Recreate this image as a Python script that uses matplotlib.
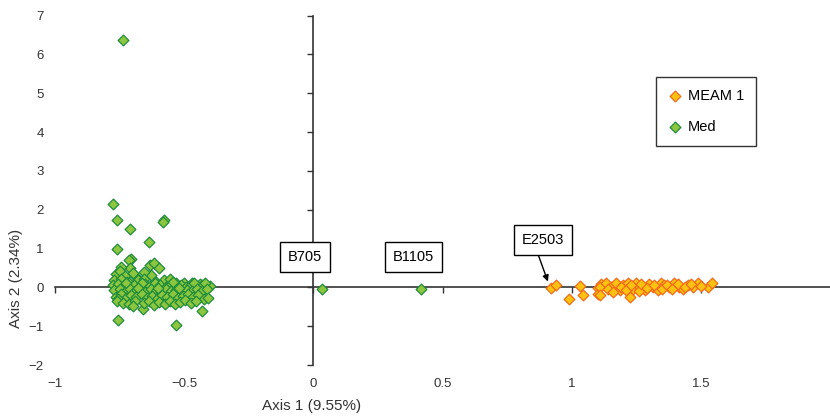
import matplotlib.pyplot as plt

plt.rcParams['font.family'] = ['Liberation Sans', 'DejaVu Sans']

# Med samples (axis 1, axis 2)
med_x = [-0.737, -0.774, -0.759, -0.710, -0.580, -0.583, -0.637, -0.762, -0.704, -0.714,
         -0.710, -0.744, -0.631, -0.618, -0.599, -0.757, -0.532, -0.432, 0.032, 0.418,
         -0.765, -0.748, -0.728, -0.690, -0.628, -0.655, -0.700,
         -0.770, -0.745, -0.720, -0.680, -0.655, -0.610, -0.580, -0.554, -0.530, -0.500, -0.470, -0.440,
         -0.775, -0.755, -0.735, -0.715, -0.695, -0.672, -0.652, -0.632, -0.612, -0.592, -0.572, -0.552,
         -0.532, -0.512, -0.492, -0.472, -0.452, -0.432, -0.412, -0.400, -0.420, -0.462, -0.545, -0.665, -0.725,
         -0.770, -0.750, -0.730, -0.710, -0.690, -0.670, -0.650, -0.630, -0.610, -0.590, -0.570, -0.550,
         -0.530, -0.510, -0.490, -0.470, -0.450, -0.430, -0.410, -0.600, -0.680, -0.520,
         -0.765, -0.745, -0.725, -0.705, -0.685, -0.665, -0.645, -0.625, -0.605, -0.585, -0.565, -0.545,
         -0.525, -0.505, -0.485, -0.465, -0.445, -0.425, -0.406, -0.755,
         -0.760, -0.735, -0.714, -0.690, -0.660, -0.655, -0.635, -0.615, -0.598, -0.575, -0.555, -0.535,
         -0.515, -0.495, -0.475, -0.455, -0.700]
med_y = [6.37, 2.14, 1.74, 1.49, 1.74, 1.68, 1.17, 0.98, 0.73, 0.70,
         0.51, 0.53, 0.57, 0.63, 0.51, -0.84, -0.98, -0.60, -0.03, -0.05,
         0.35, 0.42, 0.30, 0.28, 0.31, 0.40, 0.38,
         0.20, 0.22, 0.15, 0.18, 0.22, 0.15, 0.20, 0.22, 0.12, 0.10, 0.12, 0.08,
         0.05, 0.08, 0.02, 0.10, 0.05, 0.00, 0.08, 0.03, 0.10, 0.05, 0.00, 0.08,
         0.02, 0.05, 0.00, 0.06, 0.02, 0.05, 0.00, 0.04, 0.10, 0.12, 0.14, 0.12, 0.12,
         -0.08, -0.05, -0.12, -0.03, -0.10, -0.06, -0.12, -0.04, -0.09, -0.13, -0.05, -0.10,
         -0.07, -0.12, -0.06, -0.10, -0.05, -0.09, -0.04, -0.02, -0.01, -0.02,
         -0.25, -0.18, -0.28, -0.20, -0.25, -0.18, -0.28, -0.22, -0.30, -0.20, -0.26, -0.18,
         -0.28, -0.22, -0.17, -0.25, -0.20, -0.30, -0.27, -0.30,
         -0.35, -0.40, -0.44, -0.36, -0.55, -0.40, -0.35, -0.45, -0.38, -0.42, -0.35, -0.44,
         -0.38, -0.33, -0.40, -0.35, -0.48]

# MEAM 1 samples
meam_x = [0.921, 0.940, 0.988, 1.032, 1.042, 1.100, 1.103, 1.115,
          1.111, 1.111, 1.134, 1.153, 1.173, 1.186, 1.199, 1.218, 1.224, 1.237, 1.250, 1.263,
          1.282, 1.300, 1.314, 1.334, 1.346, 1.359, 1.378, 1.398, 1.417, 1.430, 1.449, 1.469,
          1.488, 1.527, 1.544,
          1.140, 1.160, 1.190, 1.210, 1.230, 1.260, 1.270, 1.290, 1.320, 1.350, 1.370, 1.390,
          1.410, 1.440, 1.460, 1.500]
meam_y = [-0.02, 0.07, -0.29, 0.03, -0.21, -0.02, -0.18, 0.08,
          0.00, -0.19, 0.11, 0.02, 0.11, -0.06, 0.05, 0.11, -0.26, -0.04, 0.11, 0.02,
          -0.06, 0.09, 0.00, -0.06, 0.11, 0.05, 0.00, 0.11, 0.02, -0.04, 0.06, 0.02,
          0.11, 0.02, 0.11,
          -0.05, -0.12, 0.02, -0.08, 0.07, -0.10, 0.08, -0.02, 0.06, -0.03, 0.07, -0.04,
          0.08, 0.00, 0.08, 0.03]

xticks = [-1, -0.5, 0, 0.5, 1, 1.5]
xtick_labels = ['\u22121', '\u22120.5', '0', '0.5', '1', '1.5']
yticks = [-2, -1, 0, 1, 2, 3, 4, 5, 6, 7]
ytick_labels = ['\u22122', '\u22121', '0', '1', '2', '3', '4', '5', '6', '7']

fig = plt.figure(figsize=(8.3, 4.17), dpi=100)
ax = fig.add_axes([0.0663, 0.1247, 0.9337, 0.8381])
ax.set_xlim(-1, 2)
ax.set_ylim(-2, 7)

for s in ax.spines.values():
    s.set_visible(False)
ax.set_xticks(xticks)
ax.set_xticklabels(xtick_labels)
ax.set_yticks(yticks)
ax.set_yticklabels(ytick_labels)
ax.tick_params(axis='x', length=0, pad=9, labelsize=9.5, labelcolor='#333333')
ax.tick_params(axis='y', length=0, pad=8, labelsize=9.5, labelcolor='#333333')

# axes crossing at the origin
line_col = '#333333'
sx = ax.secondary_xaxis(2 / 9)
sx.set_xticks(xticks)
sx.tick_params(direction='out', length=4, width=1, color=line_col, labelbottom=False)
for k, s in sx.spines.items():
    s.set_visible(k == 'bottom')
sx.spines['bottom'].set_color(line_col)
sx.spines['bottom'].set_linewidth(1.2)

sy = ax.secondary_yaxis(1 / 3)
sy.set_yticks(yticks)
sy.tick_params(direction='out', length=4, width=1, color=line_col, labelleft=False)
for k, s in sy.spines.items():
    s.set_visible(k == 'left')
sy.spines['left'].set_color(line_col)
sy.spines['left'].set_linewidth(1.2)

ax.scatter(meam_x, meam_y, marker='D', s=30, facecolor='#FFC20E', edgecolor='#F26B1D',
           linewidths=0.9, zorder=3, label='MEAM 1')
ax.scatter(med_x, med_y, marker='D', s=30, facecolor='#8CC63F', edgecolor='#1E8C3A',
           linewidths=0.9, zorder=3, label='Med')

box = dict(boxstyle='square,pad=0.55', facecolor='white', edgecolor='black', linewidth=1)
ax.text(-0.033, 0.79, 'B705', ha='center', va='center', fontsize=10.5, bbox=box, zorder=4)
ax.text(0.388, 0.79, 'B1105', ha='center', va='center', fontsize=10.5, bbox=box, zorder=4)
ax.annotate('E2503', xy=(0.908, 0.15), xytext=(0.889, 1.22), ha='center', va='center',
            fontsize=10.5, bbox=box, zorder=4,
            arrowprops=dict(arrowstyle='-|>', color='black', lw=1, mutation_scale=9,
                            shrinkA=0, shrinkB=0, relpos=(0.32, 0)))

leg = fig.legend(loc='upper left', bbox_to_anchor=(656 / 830, 1 - 77 / 417), fontsize=10.5,
                 frameon=True, fancybox=False, edgecolor='black', labelspacing=1.2,
                 handletextpad=0.4, borderpad=0.8, handlelength=1.0, borderaxespad=0)
leg.get_frame().set_linewidth(1)

fig.text(312 / 830, 1 - 406 / 417, 'Axis 1 (9.55%)', ha='center', va='center', fontsize=11,
         color='#333333')
fig.text(16 / 830, 1 - 278 / 417, 'Axis 2 (2.34%)', ha='center', va='center', fontsize=11,
         rotation=90, color='#333333')

fig.savefig('out.png', dpi=100)
